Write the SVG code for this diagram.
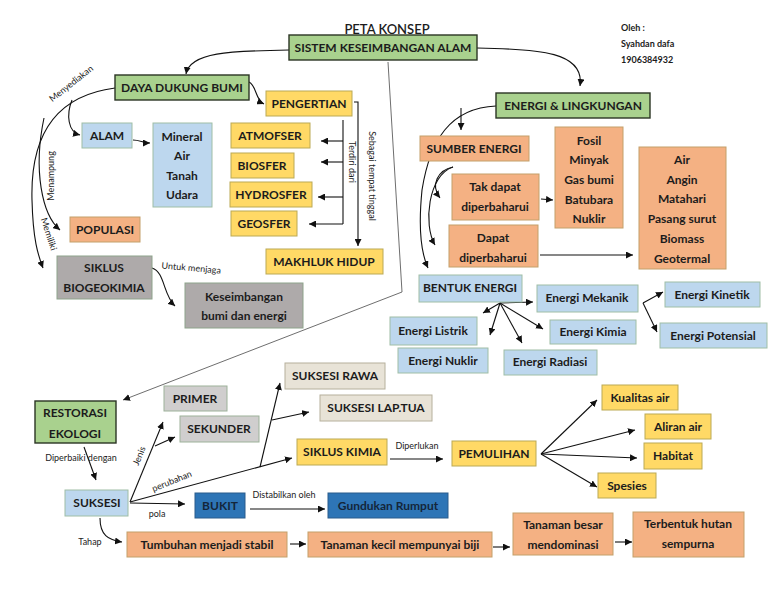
<svg xmlns="http://www.w3.org/2000/svg" width="768" height="594" viewBox="0 0 768 594">
<style>
text{font-family:Lato,"Open Sans","Liberation Sans",sans-serif;fill:#1c1c1c}
.b text{font-size:12px;font-weight:700;text-anchor:middle}
.g rect{fill:#a9d18e;stroke:#2b3524;stroke-width:1.4}
.y rect{fill:#ffd966;stroke:#bba955;stroke-width:1}
.o rect{fill:#f4b183;stroke:#c3a06a;stroke-width:1}
.l rect{fill:#bdd7ee;stroke:#9fbea6;stroke-width:1}
.gr rect{fill:#aeaaaa;stroke:#8ea38b;stroke-width:1}
.lg rect{fill:#d0cece;stroke:#9db29a;stroke-width:1}
.be rect{fill:#e8e3d7;stroke:#b6b09c;stroke-width:1}
.bl rect{fill:#2e75b6;stroke:#2a5d8c;stroke-width:1}
.bl text{fill:#14263a}
.lab{font-size:9px;font-weight:400}
.c path{fill:none;stroke:#111;stroke-width:1.1}
.c .a{marker-end:url(#ah)}
.c .gy{stroke:#6e6e6e;stroke-width:1}
</style>
<defs>
<marker id="ah" markerUnits="userSpaceOnUse" markerWidth="8" markerHeight="7" refX="7" refY="3.5" orient="auto">
<path d="M0,0 L7,3.5 L0,7 Z" fill="#111"/>
</marker>
</defs>
<rect width="768" height="594" fill="#fff"/>

<text x="387" y="34" font-size="13" font-weight="600" text-anchor="middle">PETA KONSEP</text>
<g id="author" font-size="9" font-weight="700">
<text x="621" y="31" font-size="9" font-weight="700">Oleh :</text>
<text x="621" y="47" font-size="9" font-weight="700">Syahdan dafa</text>
<text x="621" y="63" font-size="9" font-weight="700">1906384932</text>
</g>

<g class="c" id="connectors">
<path class="a" d="M289,50 C230,51 190,52 186,74"/>
<path class="a" d="M477,48 C540,49 585,52 580,86"/>
<path class="a gy" d="M388,62 L402,292 L123,400"/>
<path class="a" d="M249,82 C257,86 255,100 264,104"/>
<path class="a" d="M115,88 C60,95 30,130 32,200 C33,240 38,255 43,268"/>
<path class="a" d="M72,100 C66,115 68,132 80,135"/>
<path class="a" d="M44,118 C33,170 42,215 60,230"/>
<path class="a" d="M133,140 C140,140 143,143 150,143"/>
<path class="a" d="M354,102 L358,102 L358,246"/>
<path d="M343,120 L343,224"/>
<path class="a" d="M343,141 L321,141"/>
<path class="a" d="M343,162 L321,162"/>
<path class="a" d="M343,197 L318,197"/>
<path class="a" d="M343,224 L309,224"/>
<path class="a" d="M152,268 C165,272 163,295 175,306"/>
<path class="a" d="M496,106 C450,108 430,140 422,190 C418,230 422,255 428,268"/>
<path class="a" d="M461,108 L461,130"/>
<path class="a" d="M453,167 C438,170 430,185 440,198"/>
<path class="a" d="M453,167 C428,175 423,225 435,245"/>
<path class="a" d="M541,199 L553,200"/>
<path class="a" d="M540,255 L633,255"/>
<path class="a" d="M500,303 L533,302"/>
<path class="a" d="M500,303 L483,313"/>
<path class="a" d="M500,303 L490,335"/>
<path class="a" d="M500,303 L522,343"/>
<path class="a" d="M500,303 L543,329"/>
<path class="a" d="M643,303 L663,292"/>
<path class="a" d="M643,303 L657,332"/>
<path class="a" d="M84,447 L96,480"/>
<path class="a" d="M130,502 L163,422"/>
<path class="a" d="M155,446 L175,437"/>
<path class="a" d="M130,502 L292,458"/>
<path class="a" d="M260,467 L280,383"/>
<path class="a" d="M272,420 L309,412"/>
<path class="a" d="M130,503 L185,504"/>
<path class="a" d="M250,509 L325,509"/>
<path class="a" d="M390,459 L443,459"/>
<path class="a" d="M541,454 L597,400"/>
<path class="a" d="M541,454 L635,430"/>
<path class="a" d="M541,454 L637,458"/>
<path class="a" d="M541,454 L597,487"/>
<path class="a" d="M100,518 C100,535 108,540 122,542"/>
<path class="a" d="M290,544 L306,544"/>
<path class="a" d="M493,547 L510,547"/>
<path class="a" d="M615,542 L632,542"/>
</g>

<g id="labels" class="lab">
<text class="lab" transform="translate(73,86) rotate(-38)" text-anchor="middle">Menyediakan</text>
<text class="lab" transform="translate(54,176) rotate(-90)" text-anchor="middle">Menampung</text>
<text class="lab" transform="translate(46,235) rotate(72)" text-anchor="middle">Memiliki</text>
<text class="lab" transform="translate(191,271) rotate(5)" text-anchor="middle">Untuk menjaga</text>
<text class="lab" transform="translate(349,162) rotate(90)" text-anchor="middle">Terdiri dari</text>
<text class="lab" transform="translate(369,176) rotate(90)" text-anchor="middle">Sebagai tempat tinggal</text>
<text class="lab" x="81" y="461" text-anchor="middle">Diperbaiki dengan</text>
<text class="lab" transform="translate(142,457) rotate(-68)" text-anchor="middle">Jenis</text>
<text class="lab" transform="translate(173,484) rotate(-22)" text-anchor="middle">perubahan</text>
<text class="lab" x="157" y="517" text-anchor="middle">pola</text>
<text class="lab" x="284" y="498" text-anchor="middle">Distabilkan oleh</text>
<text class="lab" x="417" y="449" text-anchor="middle">Diperlukan</text>
<text class="lab" x="90" y="545" text-anchor="middle">Tahap</text>
</g>

<g id="sistem" class="b g"><rect x="289" y="35" width="188" height="25"/><text x="383" y="52">SISTEM KESEIMBANGAN ALAM</text></g>
<g id="daya" class="b g"><rect x="115" y="75" width="134" height="25"/><text x="182" y="92">DAYA DUKUNG BUMI</text></g>
<g id="pengertian" class="b y"><rect x="266" y="91" width="86" height="25"/><text x="309" y="108">PENGERTIAN</text></g>
<g id="alam" class="b l"><rect x="82" y="123" width="50" height="25"/><text x="107" y="140">ALAM</text></g>
<g id="mineral" class="b l"><rect x="153" y="123" width="59" height="84"/><text x="182" y="141">Mineral</text><text x="182" y="160">Air</text><text x="182" y="180">Tanah</text><text x="182" y="199">Udara</text></g>
<g id="atmofser" class="b y"><rect x="231" y="123" width="79" height="25"/><text x="270" y="140">ATMOFSER</text></g>
<g id="biosfer" class="b y"><rect x="231" y="153" width="63" height="25"/><text x="262" y="170">BIOSFER</text></g>
<g id="hydrosfer" class="b y"><rect x="230" y="182" width="82" height="25"/><text x="271" y="199">HYDROSFER</text></g>
<g id="geosfer" class="b y"><rect x="231" y="211" width="66" height="25"/><text x="264" y="228">GEOSFER</text></g>
<g id="makhluk" class="b y"><rect x="266" y="249" width="117" height="25"/><text x="324" y="266">MAKHLUK HIDUP</text></g>
<g id="populasi" class="b o"><rect x="70" y="217" width="70" height="25"/><text x="105" y="234">POPULASI</text></g>
<g id="siklusbio" class="b gr"><rect x="57" y="256" width="95" height="43"/><text x="104" y="272">SIKLUS</text><text x="104" y="292">BIOGEOKIMIA</text></g>
<g id="keseimbangan" class="b gr"><rect x="185" y="283" width="118" height="45"/><text x="244" y="301">Keseimbangan</text><text x="244" y="320">bumi dan energi</text></g>

<g id="energi" class="b g"><rect x="496" y="93" width="154" height="25"/><text x="573" y="110">ENERGI &amp; LINGKUNGAN</text></g>
<g id="sumber" class="b o"><rect x="420" y="136" width="109" height="25"/><text x="474" y="153">SUMBER ENERGI</text></g>
<g id="takdapat" class="b o"><rect x="452" y="174" width="87" height="46"/><text x="495" y="191">Tak dapat</text><text x="495" y="211">diperbaharui</text></g>
<g id="dapat" class="b o"><rect x="449" y="225" width="89" height="42"/><text x="493" y="242">Dapat</text><text x="493" y="262">diperbaharui</text></g>
<g id="fosil" class="b o"><rect x="555" y="127" width="68" height="101"/><text x="589" y="145">Fosil</text><text x="589" y="164">Minyak</text><text x="589" y="184">Gas bumi</text><text x="589" y="204">Batubara</text><text x="589" y="223">Nuklir</text></g>
<g id="terbarukan" class="b o"><rect x="639" y="147" width="87" height="122"/><text x="682" y="164">Air</text><text x="682" y="184">Angin</text><text x="682" y="203">Matahari</text><text x="682" y="223">Pasang surut</text><text x="682" y="243">Biomass</text><text x="682" y="263">Geotermal</text></g>
<g id="bentuk" class="b l"><rect x="419" y="275" width="103" height="27"/><text x="470" y="292">BENTUK ENERGI</text></g>
<g id="mekanik" class="b l"><rect x="537" y="285" width="101" height="27"/><text x="587" y="302">Energi Mekanik</text></g>
<g id="kinetik" class="b l"><rect x="665" y="282" width="95" height="25"/><text x="712" y="299">Energi Kinetik</text></g>
<g id="potensial" class="b l"><rect x="660" y="323" width="107" height="25"/><text x="713" y="340">Energi Potensial</text></g>
<g id="listrik" class="b l"><rect x="390" y="317" width="87" height="28"/><text x="433" y="335">Energi Listrik</text></g>
<g id="nuklir" class="b l"><rect x="398" y="348" width="90" height="25"/><text x="443" y="365">Energi Nuklir</text></g>
<g id="kimia" class="b l"><rect x="550" y="320" width="86" height="24"/><text x="593" y="336">Energi Kimia</text></g>
<g id="radiasi" class="b l"><rect x="504" y="350" width="93" height="25"/><text x="550" y="366">Energi Radiasi</text></g>

<g id="restorasi" class="b g"><rect x="35" y="401" width="81" height="42"/><text x="75" y="417">RESTORASI</text><text x="75" y="438">EKOLOGI</text></g>
<g id="suksesi" class="b l"><rect x="65" y="490" width="63" height="26"/><text x="97" y="507">SUKSESI</text></g>
<g id="primer" class="b lg"><rect x="164" y="386" width="63" height="25"/><text x="195" y="403">PRIMER</text></g>
<g id="sekunder" class="b lg"><rect x="180" y="416" width="79" height="26"/><text x="219" y="433">SEKUNDER</text></g>
<g id="rawa" class="b be"><rect x="285" y="363" width="100" height="26"/><text x="335" y="380">SUKSESI RAWA</text></g>
<g id="laptua" class="b be"><rect x="320" y="395" width="112" height="26"/><text x="376" y="412">SUKSESI LAP.TUA</text></g>
<g id="sikluskimia" class="b y"><rect x="297" y="439" width="90" height="26"/><text x="342" y="456">SIKLUS KIMIA</text></g>
<g id="pemulihan" class="b y"><rect x="452" y="441" width="84" height="25"/><text x="494" y="458">PEMULIHAN</text></g>
<g id="kualitas" class="b y"><rect x="602" y="385" width="76" height="25"/><text x="640" y="402">Kualitas air</text></g>
<g id="aliran" class="b y"><rect x="645" y="414" width="66" height="25"/><text x="678" y="431">Aliran air</text></g>
<g id="habitat" class="b y"><rect x="644" y="443" width="58" height="26"/><text x="673" y="460">Habitat</text></g>
<g id="spesies" class="b y"><rect x="598" y="473" width="58" height="25"/><text x="627" y="490">Spesies</text></g>
<g id="bukit" class="b bl"><rect x="195" y="493" width="50" height="25"/><text x="220" y="510">BUKIT</text></g>
<g id="gundukan" class="b bl"><rect x="328" y="493" width="120" height="25"/><text x="388" y="510">Gundukan Rumput</text></g>
<g id="tumbuhan" class="b o"><rect x="127" y="532" width="160" height="25"/><text x="207" y="549">Tumbuhan menjadi stabil</text></g>
<g id="tanamankecil" class="b o"><rect x="308" y="532" width="184" height="25"/><text x="400" y="549">Tanaman kecil mempunyai biji</text></g>
<g id="tanamanbesar" class="b o"><rect x="513" y="513" width="100" height="42"/><text x="563" y="529">Tanaman besar</text><text x="563" y="549">mendominasi</text></g>
<g id="terbentuk" class="b o"><rect x="633" y="512" width="111" height="45"/><text x="688" y="528">Terbentuk hutan</text><text x="688" y="548">sempurna</text></g>
</svg>
